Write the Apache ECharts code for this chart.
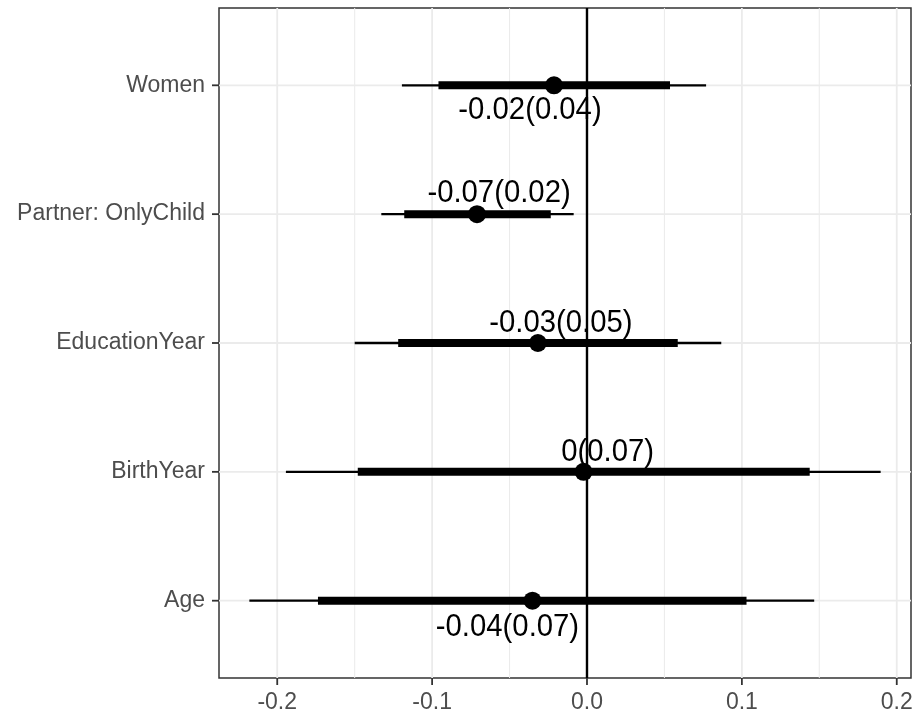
<!DOCTYPE html>
<html>
<head>
<meta charset="utf-8">
<script src="https://cdn.jsdelivr.net/npm/echarts@6/dist/echarts.min.js"></script>
<style>
html,body{margin:0;padding:0;background:#ffffff;}
#chart{width:917px;height:714px;}
</style>
</head>
<body>
<div id="chart"></div>
<script>
// ---------- data (top to bottom) ----------
const categories = ['Women', 'Partner: OnlyChild', 'EducationYear', 'BirthYear', 'Age'];
const estimate   = [-0.0213, -0.0710, -0.0317, -0.0022, -0.0352];
const innerLow   = [-0.0959, -0.1180, -0.1219, -0.1480, -0.1737];
const innerHigh  = [ 0.0536, -0.0234,  0.0586,  0.1438,  0.1030];
const outerLow   = [-0.1195, -0.1328, -0.1500, -0.1944, -0.2180];
const outerHigh  = [ 0.0769, -0.0086,  0.0867,  0.1896,  0.1467];
const labelText  = ['-0.02(0.04)', '-0.07(0.02)', '-0.03(0.05)', '0(0.07)', '-0.04(0.07)'];
const xTicks      = [-0.2, -0.1, 0, 0.1, 0.2];
const xTickLabels = ['-0.2', '-0.1', '0.0', '0.1', '0.2'];
const xMinorTicks = [-0.15, -0.05, 0.05, 0.15];
const xLimits     = [-0.2376, 0.2092];

// ---------- style / layout ----------
const n = categories.length;
const pos = i => n - i;                  // ggplot discrete positions (bottom = 1)
const labelOffset = [[-24, 25], [22, -21], [23, -20], [24, -19], [-25, 27]]; // label placement (px)
const FONT = "'Liberation Sans', Arial, Helvetica, sans-serif";
const AXIS_TEXT = '#4d4d4d';
const GRID_COLOR = '#ebebeb';
const TICK_COLOR = '#333333';
const TICK_LEN = 7;

const chart = echarts.init(document.getElementById('chart'), null, {renderer: 'canvas'});

function vLine(width, color) {
  return function (params, api) {
    const cs = params.coordSys;
    const p = api.coord([api.value(0), api.value(1)]);
    return {
      type: 'line',
      shape: {x1: p[0], y1: cs.y, x2: p[0], y2: cs.y + cs.height},
      style: {stroke: color, lineWidth: width}
    };
  };
}

const option = {
  animation: false,
  backgroundColor: '#ffffff',
  grid: {
    left: 219, right: 6, top: 8, bottom: 36,
    show: true, borderColor: '#333333', borderWidth: 1.5, backgroundColor: '#ffffff',
    containLabel: false, outerBoundsMode: 'none'
  },
  xAxis: {
    type: 'value',
    min: xLimits[0], max: xLimits[1],
    splitLine: {show: false},
    axisLine: {show: false},
    axisTick: {show: false},
    axisLabel: {
      show: true, customValues: xTicks, margin: 13,
      color: AXIS_TEXT, fontSize: 23, fontFamily: FONT,
      formatter: v => { const k = xTicks.findIndex(t => Math.abs(t - v) < 1e-9); return k >= 0 ? xTickLabels[k] : ''; }
    }
  },
  yAxis: {
    type: 'value',
    min: 0.4, max: n + 0.6,
    splitLine: {show: false},
    axisLine: {show: false},
    axisTick: {show: false},
    axisLabel: {
      show: true, customValues: categories.map((c, i) => pos(i)), margin: 14,
      color: AXIS_TEXT, fontSize: 23, fontFamily: FONT,
      formatter: v => { const i = n - Math.round(v); return categories[i] || ''; }
    }
  },
  series: [
    { // minor vertical grid
      type: 'custom', z: 1, silent: true,
      data: xMinorTicks.map(v => [v, 3]),
      encode: {x: 0, y: 1},
      renderItem: vLine(1.0, GRID_COLOR)
    },
    { // major vertical grid
      type: 'custom', z: 1, silent: true,
      data: xTicks.map(v => [v, 3]),
      encode: {x: 0, y: 1},
      renderItem: vLine(1.8, GRID_COLOR)
    },
    { // major horizontal grid
      type: 'custom', z: 1, silent: true,
      data: categories.map((c, i) => [0, pos(i)]),
      encode: {x: 0, y: 1},
      renderItem: function (params, api) {
        const cs = params.coordSys;
        const p = api.coord([api.value(0), api.value(1)]);
        return {type: 'line', shape: {x1: cs.x, y1: p[1], x2: cs.x + cs.width, y2: p[1]},
                style: {stroke: GRID_COLOR, lineWidth: 1.8}};
      }
    },
    { // x axis ticks
      type: 'custom', z: 6, silent: true, clip: false,
      data: xTicks.map(v => [v, 3]),
      encode: {x: 0, y: 1},
      renderItem: function (params, api) {
        const cs = params.coordSys;
        const p = api.coord([api.value(0), api.value(1)]);
        const y0 = cs.y + cs.height;
        return {type: 'line', shape: {x1: p[0], y1: y0, x2: p[0], y2: y0 + TICK_LEN},
                style: {stroke: TICK_COLOR, lineWidth: 1.8}};
      }
    },
    { // y axis ticks
      type: 'custom', z: 6, silent: true, clip: false,
      data: categories.map((c, i) => [0, pos(i)]),
      encode: {x: 0, y: 1},
      renderItem: function (params, api) {
        const cs = params.coordSys;
        const p = api.coord([api.value(0), api.value(1)]);
        return {type: 'line', shape: {x1: cs.x - TICK_LEN, y1: p[1], x2: cs.x, y2: p[1]},
                style: {stroke: TICK_COLOR, lineWidth: 1.8}};
      }
    },
    { // zero reference line
      type: 'custom', z: 2, silent: true,
      data: [[0, 3]],
      encode: {x: 0, y: 1},
      renderItem: vLine(2.4, '#000000')
    },
    { // intervals
      type: 'custom', z: 3, silent: true,
      data: categories.map((c, i) => [outerLow[i], outerHigh[i], innerLow[i], innerHigh[i], pos(i)]),
      encode: {x: [0, 1, 2, 3], y: 4},
      renderItem: function (params, api) {
        const y = api.value(4);
        const a = api.coord([api.value(0), y]);
        const b = api.coord([api.value(1), y]);
        const c = api.coord([api.value(2), y]);
        const d = api.coord([api.value(3), y]);
        return {
          type: 'group',
          children: [
            {type: 'line', shape: {x1: a[0], y1: a[1], x2: b[0], y2: b[1]}, style: {stroke: '#000000', lineWidth: 2.3}},
            {type: 'line', shape: {x1: c[0], y1: c[1], x2: d[0], y2: d[1]}, style: {stroke: '#000000', lineWidth: 8}}
          ]
        };
      }
    },
    { // point estimates
      type: 'scatter', z: 4, silent: true,
      data: estimate.map((e, i) => [e, pos(i)]),
      symbol: 'circle', symbolSize: 18,
      itemStyle: {color: '#000000', opacity: 1}
    },
    { // text labels
      type: 'custom', z: 5, silent: true,
      data: estimate.map((e, i) => [e, pos(i), i]),
      encode: {x: 0, y: 1},
      renderItem: function (params, api) {
        const i = api.value(2);
        const p = api.coord([api.value(0), api.value(1)]);
        const off = labelOffset[i];
        return {
          type: 'text',
          x: p[0] + off[0], y: p[1] + off[1],
          scaleX: 0.945, scaleY: 1,
          style: {
            text: labelText[i], fill: '#000000',
            fontSize: 31, fontFamily: FONT,
            align: 'center', verticalAlign: 'middle'
          }
        };
      }
    }
  ]
};

chart.setOption(option);
</script>
</body>
</html>
